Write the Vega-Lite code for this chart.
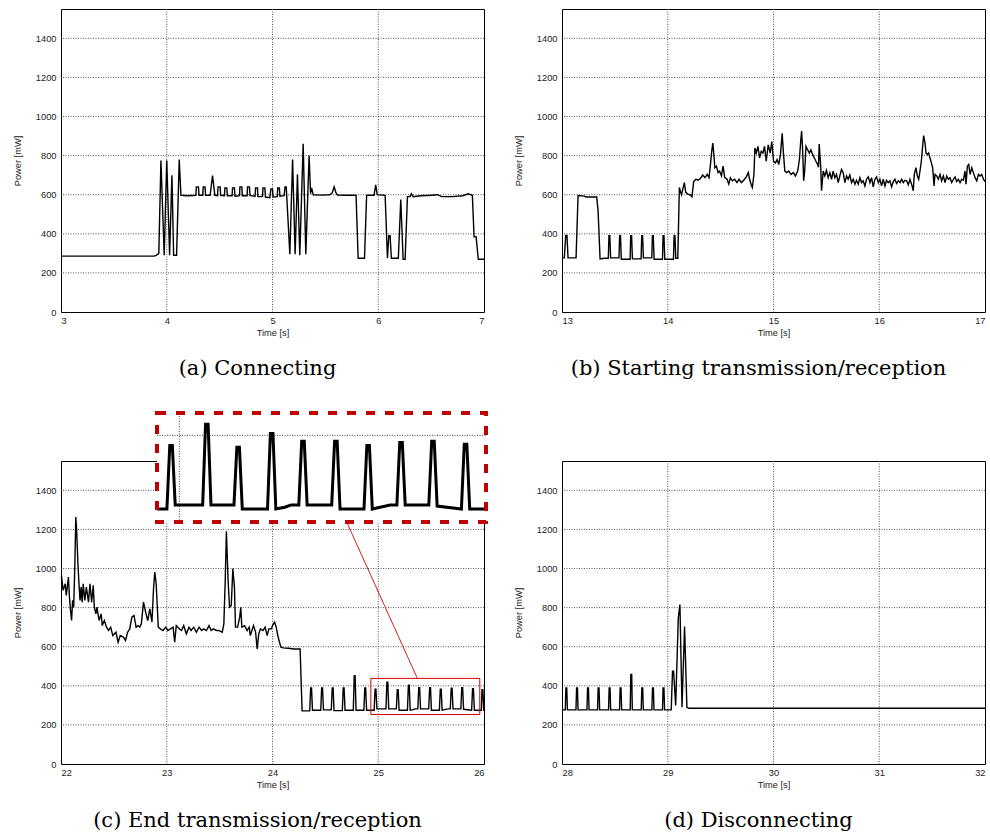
{
  "$schema": "https://vega.github.io/schema/vega-lite/v6.json",
  "background": "white",
  "autosize": {"type": "pad"},
  "padding": {"left": 12, "top": 8, "right": 4, "bottom": 4},
  "config": {
    "view": {"stroke": "black", "strokeWidth": 1},
    "axis": {
      "labelFont": "Liberation Sans", "labelFontSize": 9.3, "labelColor": "#222",
      "titleFont": "Liberation Sans", "titleFontSize": 9.3, "titleFontWeight": "normal", "titleColor": "#222",
      "grid": false, "domain": false, "ticks": false, "labelPadding": 5
    },
    "axisX": {"titlePadding": 3, "labelPadding": 4},
    "axisY": {"titlePadding": 13},
    "rule": {"color": "#555", "strokeDash": [1, 1.5], "strokeWidth": 1},
    "title": {"font": "DejaVu Serif", "fontSize": 21, "fontWeight": "normal", "color": "black", "orient": "bottom", "frame": "group", "anchor": "middle", "dx": -15, "offset": 20}
  },
  "datasets": {
    "gy": [{"v":200},{"v":400},{"v":600},{"v":800},{"v":1000},{"v":1200},{"v":1400}],
    "gxa": [{"v":4},{"v":5},{"v":6}],
    "gxb": [{"v":14},{"v":15},{"v":16}],
    "gxc": [{"v":23},{"v":24},{"v":25}],
    "gxd": [{"v":29},{"v":30},{"v":31}],
    "a": [
      {"t":3,"p":286},{"t":3.3,"p":286},{"t":3.6,"p":286},{"t":3.88,"p":286},{"t":3.9,"p":290},{"t":3.925,"p":300},{"t":3.945,"p":775},{"t":3.976,"p":290},{"t":4.0,"p":775},{"t":4.027,"p":290},{"t":4.049,"p":700},{"t":4.065,"p":290},{"t":4.093,"p":290},{"t":4.118,"p":780},{"t":4.134,"p":597},{"t":4.2,"p":595},{"t":4.275,"p":597},{"t":4.28,"p":640},{"t":4.3,"p":640},{"t":4.305,"p":597},{"t":4.34,"p":597},{"t":4.345,"p":640},{"t":4.362,"p":640},{"t":4.367,"p":597},{"t":4.41,"p":597},{"t":4.433,"p":698},{"t":4.455,"p":597},{"t":4.48,"p":595},{"t":4.485,"p":640},{"t":4.505,"p":640},{"t":4.51,"p":597},{"t":4.545,"p":595},{"t":4.55,"p":635},{"t":4.568,"p":635},{"t":4.573,"p":595},{"t":4.618,"p":595},{"t":4.622,"p":635},{"t":4.64,"p":635},{"t":4.645,"p":592},{"t":4.688,"p":595},{"t":4.692,"p":640},{"t":4.71,"p":640},{"t":4.715,"p":595},{"t":4.76,"p":595},{"t":4.764,"p":640},{"t":4.782,"p":640},{"t":4.787,"p":595},{"t":4.835,"p":592},{"t":4.84,"p":635},{"t":4.858,"p":635},{"t":4.862,"p":590},{"t":4.905,"p":590},{"t":4.91,"p":635},{"t":4.928,"p":635},{"t":4.933,"p":588},{"t":4.975,"p":585},{"t":4.985,"p":630},{"t":5.0,"p":630},{"t":5.005,"p":588},{"t":5.045,"p":590},{"t":5.05,"p":635},{"t":5.065,"p":635},{"t":5.07,"p":592},{"t":5.11,"p":595},{"t":5.118,"p":640},{"t":5.13,"p":640},{"t":5.164,"p":295},{"t":5.19,"p":780},{"t":5.214,"p":295},{"t":5.236,"p":705},{"t":5.258,"p":290},{"t":5.29,"p":860},{"t":5.315,"p":295},{"t":5.346,"p":800},{"t":5.36,"p":605},{"t":5.37,"p":635},{"t":5.385,"p":600},{"t":5.45,"p":598},{"t":5.54,"p":600},{"t":5.565,"p":610},{"t":5.583,"p":640},{"t":5.6,"p":610},{"t":5.615,"p":598},{"t":5.7,"p":597},{"t":5.79,"p":597},{"t":5.81,"p":275},{"t":5.87,"p":275},{"t":5.89,"p":597},{"t":5.96,"p":597},{"t":5.976,"p":650},{"t":5.99,"p":600},{"t":6.065,"p":597},{"t":6.087,"p":275},{"t":6.1,"p":390},{"t":6.112,"p":390},{"t":6.124,"p":275},{"t":6.19,"p":275},{"t":6.213,"p":575},{"t":6.235,"p":270},{"t":6.254,"p":270},{"t":6.276,"p":590},{"t":6.3,"p":590},{"t":6.313,"p":605},{"t":6.33,"p":590},{"t":6.4,"p":595},{"t":6.5,"p":597},{"t":6.56,"p":600},{"t":6.6,"p":590},{"t":6.7,"p":590},{"t":6.8,"p":595},{"t":6.85,"p":605},{"t":6.89,"p":597},{"t":6.906,"p":385},{"t":6.925,"p":385},{"t":6.946,"p":270},{"t":7.0,"p":270}
    ],
    "b": [
      {"t":13,"p":277},{"t":13.022,"p":277},{"t":13.035,"p":392},{"t":13.047,"p":392},{"t":13.057,"p":277},{"t":13.133,"p":277},{"t":13.152,"p":596},{"t":13.212,"p":593},{"t":13.227,"p":588},{"t":13.328,"p":588},{"t":13.341,"p":520},{"t":13.36,"p":272},{"t":13.4,"p":275},{"t":13.438,"p":275},{"t":13.444,"p":390},{"t":13.452,"p":390},{"t":13.46,"p":277},{"t":13.539,"p":277},{"t":13.545,"p":390},{"t":13.553,"p":390},{"t":13.561,"p":270},{"t":13.644,"p":270},{"t":13.65,"p":390},{"t":13.658,"p":390},{"t":13.666,"p":272},{"t":13.748,"p":272},{"t":13.754,"p":390},{"t":13.762,"p":390},{"t":13.77,"p":277},{"t":13.849,"p":277},{"t":13.855,"p":390},{"t":13.863,"p":390},{"t":13.871,"p":270},{"t":13.95,"p":270},{"t":13.956,"p":390},{"t":13.964,"p":390},{"t":13.972,"p":270},{"t":14.054,"p":270},{"t":14.06,"p":390},{"t":14.068,"p":390},{"t":14.076,"p":275},{"t":14.095,"p":275},
      {"t":14.11,"p":637},{"t":14.122,"p":612},{"t":14.13,"p":600},{"t":14.157,"p":662},{"t":14.17,"p":612},{"t":14.188,"p":603},{"t":14.21,"p":600},{"t":14.229,"p":590},{"t":14.245,"p":667},{"t":14.266,"p":679},{"t":14.288,"p":674},{"t":14.31,"p":684},{"t":14.33,"p":701},{"t":14.352,"p":687},{"t":14.373,"p":704},{"t":14.39,"p":687},{"t":14.404,"p":755},{"t":14.414,"p":813},{"t":14.426,"p":864},{"t":14.436,"p":805},{"t":14.445,"p":738},{"t":14.46,"p":746},{"t":14.476,"p":713},{"t":14.49,"p":721},{"t":14.508,"p":696},{"t":14.523,"p":746},{"t":14.539,"p":687},{"t":14.561,"p":679},{"t":14.577,"p":654},{"t":14.592,"p":687},{"t":14.611,"p":671},{"t":14.633,"p":679},{"t":14.655,"p":662},{"t":14.674,"p":679},{"t":14.696,"p":662},{"t":14.718,"p":674},{"t":14.743,"p":691},{"t":14.762,"p":713},{"t":14.774,"p":679},{"t":14.79,"p":650},{"t":14.8,"p":637},{"t":14.815,"p":704},{"t":14.824,"p":839},{"t":14.837,"p":813},{"t":14.853,"p":847},{"t":14.868,"p":788},{"t":14.884,"p":822},{"t":14.9,"p":813},{"t":14.915,"p":847},{"t":14.931,"p":771},{"t":14.95,"p":855},{"t":14.969,"p":813},{"t":14.984,"p":872},{"t":15.0,"p":771},{"t":15.019,"p":763},{"t":15.034,"p":780},{"t":15.05,"p":755},{"t":15.066,"p":805},{"t":15.082,"p":914},{"t":15.094,"p":813},{"t":15.107,"p":721},{"t":15.125,"p":713},{"t":15.144,"p":721},{"t":15.166,"p":704},{"t":15.188,"p":713},{"t":15.207,"p":696},{"t":15.229,"p":721},{"t":15.245,"p":780},{"t":15.257,"p":872},{"t":15.266,"p":926},{"t":15.276,"p":822},{"t":15.285,"p":671},{"t":15.295,"p":721},{"t":15.307,"p":847},{"t":15.323,"p":830},{"t":15.339,"p":813},{"t":15.354,"p":830},{"t":15.37,"p":805},{"t":15.386,"p":788},{"t":15.401,"p":771},{"t":15.417,"p":755},{"t":15.425,"p":740},{"t":15.432,"p":859},{"t":15.447,"p":738},{"t":15.454,"p":620},
      {"t":15.47,"p":721},{"t":15.485,"p":696},{"t":15.501,"p":724},{"t":15.517,"p":687},{"t":15.533,"p":713},{"t":15.549,"p":679},{"t":15.564,"p":721},{"t":15.58,"p":687},{"t":15.596,"p":704},{"t":15.612,"p":662},{"t":15.627,"p":696},{"t":15.643,"p":729},{"t":15.659,"p":713},{"t":15.675,"p":662},{"t":15.691,"p":696},{"t":15.706,"p":679},{"t":15.722,"p":701},{"t":15.738,"p":662},{"t":15.754,"p":679},{"t":15.77,"p":654},{"t":15.785,"p":674},{"t":15.801,"p":654},{"t":15.817,"p":687},{"t":15.833,"p":662},{"t":15.848,"p":671},{"t":15.864,"p":645},{"t":15.88,"p":679},{"t":15.896,"p":691},{"t":15.912,"p":662},{"t":15.927,"p":687},{"t":15.943,"p":640},{"t":15.959,"p":679},{"t":15.975,"p":691},{"t":15.991,"p":662},{"t":16.006,"p":679},{"t":16.022,"p":645},{"t":16.038,"p":679},{"t":16.054,"p":645},{"t":16.069,"p":674},{"t":16.085,"p":662},{"t":16.101,"p":671},{"t":16.117,"p":640},{"t":16.133,"p":667},{"t":16.148,"p":679},{"t":16.164,"p":657},{"t":16.18,"p":671},{"t":16.196,"p":662},{"t":16.212,"p":679},{"t":16.227,"p":662},{"t":16.243,"p":674},{"t":16.259,"p":671},{"t":16.275,"p":650},{"t":16.29,"p":679},{"t":16.306,"p":654},{"t":16.322,"p":620},{"t":16.331,"p":704},{"t":16.347,"p":738},{"t":16.36,"p":696},{"t":16.373,"p":679},{"t":16.385,"p":721},{"t":16.398,"p":771},{"t":16.41,"p":847},{"t":16.42,"p":902},{"t":16.433,"p":864},{"t":16.442,"p":813},{"t":16.455,"p":805},{"t":16.467,"p":813},{"t":16.48,"p":788},{"t":16.493,"p":763},{"t":16.505,"p":738},{"t":16.518,"p":645},{"t":16.527,"p":704},{"t":16.543,"p":696},{"t":16.559,"p":679},{"t":16.575,"p":704},{"t":16.59,"p":671},{"t":16.606,"p":696},{"t":16.622,"p":662},{"t":16.638,"p":696},{"t":16.653,"p":679},{"t":16.669,"p":687},{"t":16.685,"p":662},{"t":16.701,"p":679},{"t":16.717,"p":691},{"t":16.732,"p":667},{"t":16.748,"p":679},{"t":16.764,"p":662},{"t":16.78,"p":679},{"t":16.796,"p":674},{"t":16.811,"p":721},{"t":16.821,"p":654},{"t":16.833,"p":746},{"t":16.846,"p":755},{"t":16.859,"p":704},{"t":16.875,"p":738},{"t":16.89,"p":713},{"t":16.906,"p":687},{"t":16.922,"p":671},{"t":16.938,"p":704},{"t":16.953,"p":696},{"t":16.969,"p":704},{"t":16.985,"p":679},{"t":17.0,"p":667}
    ],
    "c": [
      {"t":22.0,"p":950},{"t":22.006,"p":956},{"t":22.02,"p":888},{"t":22.04,"p":922},{"t":22.05,"p":862},{"t":22.07,"p":956},{"t":22.08,"p":854},{"t":22.09,"p":785},{"t":22.1,"p":734},{"t":22.11,"p":837},{"t":22.12,"p":802},{"t":22.13,"p":1000},{"t":22.14,"p":1263},{"t":22.148,"p":1195},{"t":22.16,"p":1024},{"t":22.17,"p":922},{"t":22.18,"p":837},{"t":22.19,"p":905},{"t":22.2,"p":828},{"t":22.21,"p":922},{"t":22.225,"p":837},{"t":22.24,"p":905},{"t":22.26,"p":828},{"t":22.274,"p":922},{"t":22.29,"p":828},{"t":22.305,"p":914},{"t":22.315,"p":802},{"t":22.33,"p":768},{"t":22.34,"p":802},{"t":22.36,"p":734},{"t":22.38,"p":768},{"t":22.39,"p":708},{"t":22.41,"p":734},{"t":22.43,"p":700},{"t":22.45,"p":683},{"t":22.47,"p":700},{"t":22.49,"p":657},{"t":22.52,"p":674},{"t":22.54,"p":623},{"t":22.56,"p":657},{"t":22.59,"p":649},{"t":22.61,"p":632},{"t":22.63,"p":674},{"t":22.65,"p":691},{"t":22.67,"p":751},{"t":22.69,"p":760},{"t":22.71,"p":700},{"t":22.73,"p":708},{"t":22.745,"p":700},{"t":22.76,"p":717},{"t":22.78,"p":828},{"t":22.8,"p":777},{"t":22.82,"p":734},{"t":22.84,"p":794},{"t":22.86,"p":726},{"t":22.876,"p":905},{"t":22.887,"p":982},{"t":22.9,"p":922},{"t":22.92,"p":700},{"t":22.94,"p":691},{"t":22.965,"p":683},{"t":22.99,"p":700},{"t":23.01,"p":683},{"t":23.035,"p":691},{"t":23.06,"p":700},{"t":23.075,"p":623},{"t":23.09,"p":708},{"t":23.12,"p":691},{"t":23.14,"p":683},{"t":23.16,"p":708},{"t":23.185,"p":666},{"t":23.21,"p":700},{"t":23.23,"p":683},{"t":23.255,"p":700},{"t":23.28,"p":674},{"t":23.305,"p":700},{"t":23.33,"p":683},{"t":23.35,"p":691},{"t":23.375,"p":683},{"t":23.4,"p":708},{"t":23.42,"p":683},{"t":23.44,"p":691},{"t":23.47,"p":683},{"t":23.49,"p":683},{"t":23.525,"p":674},{"t":23.54,"p":717},{"t":23.553,"p":939},{"t":23.564,"p":1190},{"t":23.58,"p":939},{"t":23.594,"p":802},{"t":23.61,"p":811},{"t":23.625,"p":1000},{"t":23.64,"p":905},{"t":23.65,"p":700},{"t":23.67,"p":700},{"t":23.69,"p":751},{"t":23.7,"p":802},{"t":23.71,"p":700},{"t":23.736,"p":708},{"t":23.76,"p":683},{"t":23.78,"p":700},{"t":23.79,"p":657},{"t":23.81,"p":691},{"t":23.82,"p":708},{"t":23.84,"p":674},{"t":23.855,"p":589},{"t":23.87,"p":666},{"t":23.886,"p":691},{"t":23.91,"p":683},{"t":23.93,"p":700},{"t":23.95,"p":657},{"t":23.965,"p":691},{"t":23.99,"p":691},{"t":24.0,"p":708},{"t":24.02,"p":726},{"t":24.035,"p":700},{"t":24.05,"p":657},{"t":24.066,"p":623},{"t":24.08,"p":598},{"t":24.1,"p":594},{"t":24.15,"p":592},{"t":24.2,"p":588},{"t":24.261,"p":588},{"t":24.28,"p":272},
      {"t":24.352,"p":272},{"t":24.361,"p":389},{"t":24.369,"p":389},{"t":24.378,"p":275},{"t":24.456,"p":275},{"t":24.465,"p":389},{"t":24.473,"p":389},{"t":24.482,"p":277},{"t":24.556,"p":277},{"t":24.565,"p":389},{"t":24.573,"p":389},{"t":24.582,"p":273},{"t":24.66,"p":273},{"t":24.669,"p":389},{"t":24.677,"p":389},{"t":24.686,"p":275},{"t":24.764,"p":275},{"t":24.773,"p":452},{"t":24.781,"p":452},{"t":24.79,"p":275},{"t":24.864,"p":275},{"t":24.873,"p":389},{"t":24.881,"p":389},{"t":24.89,"p":275},
      {"t":24.93,"p":275},{"t":24.961,"p":275},{"t":24.97,"p":383},{"t":24.978,"p":383},{"t":24.987,"p":282},{"t":25.073,"p":282},{"t":25.082,"p":419},{"t":25.09,"p":419},{"t":25.099,"p":282},{"t":25.171,"p":282},{"t":25.18,"p":380},{"t":25.188,"p":380},{"t":25.197,"p":275},{"t":25.276,"p":275},{"t":25.285,"p":403},{"t":25.293,"p":403},{"t":25.302,"p":275},{"t":25.33,"p":278},{"t":25.35,"p":282},{"t":25.374,"p":282},{"t":25.383,"p":390},{"t":25.391,"p":390},{"t":25.4,"p":282},{"t":25.477,"p":282},{"t":25.486,"p":390},{"t":25.494,"p":390},{"t":25.503,"p":275},{"t":25.578,"p":275},{"t":25.587,"p":383},{"t":25.595,"p":383},{"t":25.604,"p":275},{"t":25.66,"p":282},{"t":25.681,"p":282},{"t":25.69,"p":388},{"t":25.698,"p":388},{"t":25.707,"p":282},{"t":25.781,"p":282},{"t":25.79,"p":390},{"t":25.798,"p":390},{"t":25.807,"p":280},{"t":25.883,"p":275},{"t":25.892,"p":385},{"t":25.9,"p":385},{"t":25.909,"p":275},{"t":25.96,"p":275},{"t":25.975,"p":275},{"t":25.981,"p":380},{"t":25.989,"p":380},{"t":25.998,"p":275},{"t":26.0,"p":275}
    ],
    "d": [
      {"t":28.0,"p":277},{"t":28.031,"p":277},{"t":28.037,"p":389},{"t":28.045,"p":389},{"t":28.051,"p":277},{"t":28.132,"p":277},{"t":28.138,"p":389},{"t":28.146,"p":389},{"t":28.152,"p":277},{"t":28.236,"p":277},{"t":28.242,"p":389},{"t":28.25,"p":389},{"t":28.256,"p":277},{"t":28.336,"p":277},{"t":28.342,"p":389},{"t":28.35,"p":389},{"t":28.356,"p":277},{"t":28.44,"p":277},{"t":28.446,"p":389},{"t":28.454,"p":389},{"t":28.46,"p":277},{"t":28.544,"p":277},{"t":28.55,"p":389},{"t":28.558,"p":389},{"t":28.564,"p":277},{"t":28.645,"p":277},{"t":28.651,"p":458},{"t":28.659,"p":458},{"t":28.665,"p":277},{"t":28.749,"p":277},{"t":28.755,"p":389},{"t":28.763,"p":389},{"t":28.769,"p":277},{"t":28.85,"p":277},{"t":28.856,"p":389},{"t":28.864,"p":389},{"t":28.87,"p":277},{"t":28.95,"p":277},{"t":28.956,"p":389},{"t":28.964,"p":389},{"t":28.97,"p":277},{"t":29.033,"p":277},{"t":29.045,"p":475},{"t":29.055,"p":475},{"t":29.075,"p":300},{"t":29.1,"p":750},{"t":29.115,"p":816},{"t":29.135,"p":290},{"t":29.159,"p":703},{"t":29.181,"p":290},{"t":29.2,"p":285},{"t":30.0,"p":285},{"t":31.0,"p":285},{"t":32.0,"p":285}
    ],
    "box": [{"x1":24.93,"x2":25.96,"y1":253,"y2":438}],
    "conn": [{"x1":25.37,"y1":438,"x2":24.7,"y2":1240}]
  },
  "spacing": 30,
  "vconcat": [
    {
      "bounds": "flush",
      "spacing": 78,
      "hconcat": [
        {
          "width": 423, "height": 303,
          "title": {"text": "(a) Connecting"},
          "layer": [
            {"data": {"name": "gxa"}, "mark": {"type": "rule"},
             "encoding": {"x": {"field": "v", "type": "quantitative", "scale": {"domain": [3, 7], "nice": false, "zero": false}, "axis": {"values": [3, 4, 5, 6, 7], "format": "d", "title": "Time [s]"}}}},
            {"data": {"name": "gy"}, "mark": {"type": "rule"},
             "encoding": {"y": {"field": "v", "type": "quantitative", "scale": {"domain": [0, 1550], "nice": false}, "axis": {"values": [0, 200, 400, 600, 800, 1000, 1200, 1400], "format": "d", "title": "Power [mW]"}}}},
            {"data": {"name": "a"}, "mark": {"type": "line", "color": "black", "strokeWidth": 1.4},
             "encoding": {
               "x": {"field": "t", "type": "quantitative", "scale": {"domain": [3, 7], "nice": false, "zero": false}, "axis": {"values": [3, 4, 5, 6, 7], "format": "d", "title": "Time [s]"}},
               "y": {"field": "p", "type": "quantitative", "scale": {"domain": [0, 1550], "nice": false}, "axis": {"values": [0, 200, 400, 600, 800, 1000, 1200, 1400], "format": "d", "title": "Power [mW]"}}
             }}
          ]
        },
        {
          "width": 423, "height": 303,
          "title": {"text": "(b) Starting transmission/reception"},
          "layer": [
            {"data": {"name": "gxb"}, "mark": {"type": "rule"},
             "encoding": {"x": {"field": "v", "type": "quantitative", "scale": {"domain": [13, 17], "nice": false, "zero": false}, "axis": {"values": [13, 14, 15, 16, 17], "format": "d", "title": "Time [s]"}}}},
            {"data": {"name": "gy"}, "mark": {"type": "rule"},
             "encoding": {"y": {"field": "v", "type": "quantitative", "scale": {"domain": [0, 1550], "nice": false}, "axis": {"values": [0, 200, 400, 600, 800, 1000, 1200, 1400], "format": "d", "title": "Power [mW]"}}}},
            {"data": {"name": "b"}, "mark": {"type": "line", "color": "black", "strokeWidth": 1.4},
             "encoding": {
               "x": {"field": "t", "type": "quantitative", "scale": {"domain": [13, 17], "nice": false, "zero": false}, "axis": {"values": [13, 14, 15, 16, 17], "format": "d", "title": "Time [s]"}},
               "y": {"field": "p", "type": "quantitative", "scale": {"domain": [0, 1550], "nice": false}, "axis": {"values": [0, 200, 400, 600, 800, 1000, 1200, 1400], "format": "d", "title": "Power [mW]"}}
             }}
          ]
        }
      ]
    },
    {
      "bounds": "flush",
      "spacing": 78,
      "hconcat": [
        {
          "width": 423, "height": 303,
          "title": {"text": "(c) End transmission/reception"},
          "resolve": {"scale": {"x": "independent", "y": "independent"}},
          "layer": [
            {
              "layer": [
                {"data": {"name": "gxc"}, "mark": {"type": "rule"},
                 "encoding": {"x": {"field": "v", "type": "quantitative", "scale": {"domain": [22, 26], "nice": false, "zero": false}, "axis": {"values": [22, 23, 24, 25, 26], "format": "d", "title": "Time [s]"}}}},
                {"data": {"name": "gy"}, "mark": {"type": "rule"},
                 "encoding": {"y": {"field": "v", "type": "quantitative", "scale": {"domain": [0, 1550], "nice": false}, "axis": {"values": [0, 200, 400, 600, 800, 1000, 1200, 1400], "format": "d", "title": "Power [mW]"}}}},
                {
                  "data": {"name": "c"},
                  "mark": {"type": "line", "color": "black", "strokeWidth": 1.4},
                  "encoding": {
                    "x": {"field": "t", "type": "quantitative", "scale": {"domain": [22, 26], "nice": false, "zero": false}, "axis": {"values": [22, 23, 24, 25, 26], "format": "d", "title": "Time [s]"}},
                    "y": {"field": "p", "type": "quantitative", "scale": {"domain": [0, 1550], "nice": false}, "axis": {"values": [0, 200, 400, 600, 800, 1000, 1200, 1400], "format": "d", "title": "Power [mW]"}}
                  }
                },
                {
                  "data": {"name": "box"},
                  "mark": {"type": "rect", "filled": false, "stroke": "#d40000", "strokeWidth": 1},
                  "encoding": {
                    "x": {"field": "x1", "type": "quantitative", "scale": {"domain": [22, 26], "nice": false, "zero": false}, "axis": {"values": [22, 23, 24, 25, 26], "format": "d", "title": "Time [s]"}},
                    "x2": {"field": "x2"},
                    "y": {"field": "y1", "type": "quantitative", "scale": {"domain": [0, 1550], "nice": false}, "axis": {"values": [0, 200, 400, 600, 800, 1000, 1200, 1400], "format": "d", "title": "Power [mW]"}},
                    "y2": {"field": "y2"}
                  }
                },
                {
                  "data": {"name": "conn"},
                  "mark": {"type": "rule", "color": "#c80000", "strokeWidth": 1, "strokeDash": [1, 0]},
                  "encoding": {
                    "x": {"field": "x1", "type": "quantitative", "scale": {"domain": [22, 26], "nice": false, "zero": false}, "axis": {"values": [22, 23, 24, 25, 26], "format": "d", "title": "Time [s]"}},
                    "x2": {"field": "x2"},
                    "y": {"field": "y1", "type": "quantitative", "scale": {"domain": [0, 1550], "nice": false}, "axis": {"values": [0, 200, 400, 600, 800, 1000, 1200, 1400], "format": "d", "title": "Power [mW]"}},
                    "y2": {"field": "y2"}
                  }
                }
              ]
            },
            {
              "layer": [
                {
                  "data": {"name": "box"},
                  "mark": {"type": "rect", "fill": "white", "clip": false},
                  "encoding": {
                    "x": {"field": "x1", "type": "quantitative", "scale": {"domain": [24.93, 25.96], "range": [96, 425], "nice": false, "zero": false}, "axis": null},
                    "x2": {"field": "x2"},
                    "y": {"field": "y1", "type": "quantitative", "scale": {"domain": [253, 438], "range": [61, -48], "nice": false, "zero": false}, "axis": null},
                    "y2": {"field": "y2"}
                  }
                },
                {
                  "data": {"values": [{}]},
                  "mark": {"type": "rule", "color": "#444", "clip": false},
                  "encoding": {
                    "x": {"datum": 24.93, "type": "quantitative", "scale": {"domain": [24.93, 25.96], "range": [96, 425], "nice": false, "zero": false}, "axis": null},
                    "x2": {"datum": 25.96},
                    "y": {"datum": 400, "type": "quantitative", "scale": {"domain": [253, 438], "range": [61, -48], "nice": false, "zero": false}, "axis": null}
                  }
                },
                {
                  "data": {"values": [{}]},
                  "mark": {"type": "rule", "color": "#444", "clip": false},
                  "encoding": {
                    "x": {"datum": 25, "type": "quantitative", "scale": {"domain": [24.93, 25.96], "range": [96, 425], "nice": false, "zero": false}, "axis": null},
                    "y": {"datum": 253, "type": "quantitative", "scale": {"domain": [253, 438], "range": [61, -48], "nice": false, "zero": false}, "axis": null},
                    "y2": {"datum": 438}
                  }
                },
                {
                  "data": {"name": "c"},
                  "transform": [{"filter": "datum.t >= 24.93 && datum.t <= 25.96"}],
                  "mark": {"type": "line", "color": "black", "strokeWidth": 3, "clip": false},
                  "encoding": {
                    "x": {"field": "t", "type": "quantitative", "scale": {"domain": [24.93, 25.96], "range": [96, 425], "nice": false, "zero": false}, "axis": null},
                    "y": {"field": "p", "type": "quantitative", "scale": {"domain": [253, 438], "range": [61, -48], "nice": false, "zero": false}, "axis": null}
                  }
                },
                {
                  "data": {"name": "box"},
                  "mark": {"type": "rect", "filled": false, "stroke": "#c00000", "strokeWidth": 4, "strokeDash": [9, 10], "clip": false},
                  "encoding": {
                    "x": {"field": "x1", "type": "quantitative", "scale": {"domain": [24.93, 25.96], "range": [96, 425], "nice": false, "zero": false}, "axis": null},
                    "x2": {"field": "x2"},
                    "y": {"field": "y1", "type": "quantitative", "scale": {"domain": [253, 438], "range": [61, -48], "nice": false, "zero": false}, "axis": null},
                    "y2": {"field": "y2"}
                  }
                }
              ]
            }
          ]
        },
        {
          "width": 423, "height": 303,
          "title": {"text": "(d) Disconnecting"},
          "layer": [
            {"data": {"name": "gxd"}, "mark": {"type": "rule"},
             "encoding": {"x": {"field": "v", "type": "quantitative", "scale": {"domain": [28, 32], "nice": false, "zero": false}, "axis": {"values": [28, 29, 30, 31, 32], "format": "d", "title": "Time [s]"}}}},
            {"data": {"name": "gy"}, "mark": {"type": "rule"},
             "encoding": {"y": {"field": "v", "type": "quantitative", "scale": {"domain": [0, 1550], "nice": false}, "axis": {"values": [0, 200, 400, 600, 800, 1000, 1200, 1400], "format": "d", "title": "Power [mW]"}}}},
            {"data": {"name": "d"}, "mark": {"type": "line", "color": "black", "strokeWidth": 1.4},
             "encoding": {
               "x": {"field": "t", "type": "quantitative", "scale": {"domain": [28, 32], "nice": false, "zero": false}, "axis": {"values": [28, 29, 30, 31, 32], "format": "d", "title": "Time [s]"}},
               "y": {"field": "p", "type": "quantitative", "scale": {"domain": [0, 1550], "nice": false}, "axis": {"values": [0, 200, 400, 600, 800, 1000, 1200, 1400], "format": "d", "title": "Power [mW]"}}
             }}
          ]
        }
      ]
    }
  ]
}
